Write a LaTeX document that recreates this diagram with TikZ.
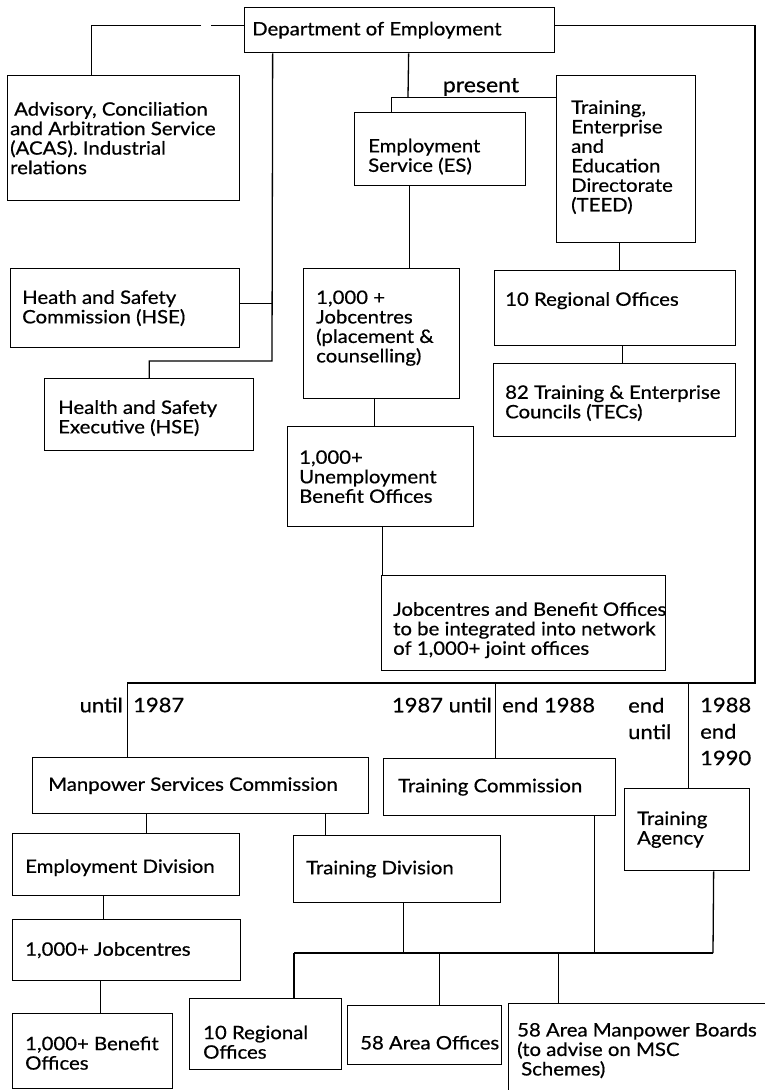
\documentclass[tikz,border=0pt]{standalone}
\usepackage{fontspec}
\setmainfont{Lato}[FakeStretch=1.1,FakeBold=0.6]
\begin{document}
\begin{tikzpicture}[x=1pt,y=-1pt,
  bx/.style={draw, line width=1.3pt, inner sep=0pt, anchor=north west},
  tx/.style={inner sep=0pt, align=left, anchor=west, font=\fontsize{18.5}{19.5}\selectfont},
  lb/.style={inner sep=0pt, font=\fontsize{20}{26.5}\selectfont},
  ln/.style={line width=1.3pt}]
\fill[white] (0,0) rectangle (764,1090);
\useasboundingbox (0,0) rectangle (764,1090);
% boxes
\node[bx, minimum width=310pt, minimum height=45pt] (dept) at (244,7) {};
\node[bx, minimum width=232pt, minimum height=125pt] (acas) at (7,75) {};
\node[bx, minimum width=171pt, minimum height=73pt] (es) at (354,112) {};
\node[bx, minimum width=139pt, minimum height=167pt] (teed) at (556,75) {};
\node[bx, minimum width=229pt, minimum height=79pt] (hsc) at (10,268) {};
\node[bx, minimum width=209pt, minimum height=72pt] (hse) at (44,378) {};
\node[bx, minimum width=156pt, minimum height=130pt] (jc) at (303,268) {};
\node[bx, minimum width=241pt, minimum height=75pt] (ro) at (494,270) {};
\node[bx, minimum width=242pt, minimum height=73pt] (tec) at (493,363) {};
\node[bx, minimum width=186pt, minimum height=100pt] (ub) at (287,426) {};
\node[bx, minimum width=284pt, minimum height=95pt] (joint) at (381,575) {};
\node[bx, minimum width=336pt, minimum height=56pt] (msc) at (32,757) {};
\node[bx, minimum width=232pt, minimum height=57pt] (tc) at (383,758) {};
\node[bx, minimum width=125pt, minimum height=82pt] (ta) at (624,788) {};
\node[bx, minimum width=227pt, minimum height=62pt] (ed) at (12,833) {};
\node[bx, minimum width=207pt, minimum height=67pt] (td) at (293,835) {};
\node[bx, minimum width=228pt, minimum height=61pt] (jc2) at (12,919) {};
\node[bx, minimum width=160pt, minimum height=75pt] (bo) at (12,1013) {};
\node[bx, minimum width=152pt, minimum height=71pt] (ro2) at (189,998) {};
\node[bx, minimum width=154pt, minimum height=59pt] (ao) at (347,1005) {};
\node[bx, minimum width=280pt, minimum height=120pt] (amb) at (508,1003) {};
% texts
\node[tx] (dept-t) at ([xshift=8pt]dept.west) {Department of Employment};
\node[tx] (acas-t) at ([xshift=3pt]acas.west) {\hspace*{4pt}Advisory, Conciliation\\and Arbitration Service\\(ACAS). Industrial\\relations};
\node[tx] (es-t) at ([xshift=14pt,yshift=-7.5pt]es.west) {Employment\\Service (ES)};
\node[tx] (teed-t) at ([xshift=15pt,yshift=2pt]teed.west) {Training,\\Enterprise\\and\\Education\\Directorate\\(TEED)};
\node[tx] (hsc-t) at ([xshift=12pt]hsc.west) {Heath and Safety\\Commission (HSE)};
\node[tx] (hse-t) at ([xshift=14pt,yshift=-3.5pt]hse.west) {Health and Safety\\Executive (HSE)};
\node[tx] (jc-t) at ([xshift=13pt,yshift=5.5pt]jc.west) {1,000 +\\Jobcentres\\(placement \&\\counselling)};
\node[tx] (ro-t) at ([xshift=11pt,yshift=7.5pt]ro.west) {10 Regional Offices};
\node[tx] (tec-t) at ([xshift=12pt,yshift=-3pt]tec.west) {82 Training \& Enterprise\\Councils (TECs)};
\node[tx] (ub-t) at ([xshift=12pt]ub.west) {1,000+\\Unemployment\\Benefit Offices};
\node[tx] (joint-t) at ([xshift=12pt,yshift=-7pt]joint.west) {Jobcentres and Benefit Offices\\to be integrated into network\\of 1,000+ joint offices};
\node[tx] (msc-t) at ([xshift=16pt]msc.west) {Manpower Services Commission};
\node[tx] (tc-t) at ([xshift=15pt]tc.west) {Training Commission};
\node[tx] (ta-t) at ([xshift=13pt]ta.west) {Training\\Agency};
\node[tx] (ed-t) at ([xshift=13pt,yshift=-3pt]ed.west) {Employment Division};
\node[tx] (td-t) at ([xshift=13pt]td.west) {Training Division};
\node[tx] (jc2-t) at ([xshift=13pt]jc2.west) {1,000+ Jobcentres};
\node[tx] (bo-t) at ([xshift=13pt,yshift=-2pt]bo.west) {1,000+ Benefit\\Offices};
\node[tx] (ro2-t) at ([xshift=14pt,yshift=-8pt]ro2.west) {10 Regional\\Offices};
\node[tx] (ao-t) at ([xshift=13pt,yshift=-7.5pt]ao.west) {58 Area Offices};
\node[tx, anchor=west] (amb-t) at ([xshift=9pt,yshift=-47.5pt]amb.north west) {58 Area Manpower Boards\\(to advise on MSC\\\hspace*{4pt}Schemes)};
% labels
\node[lb, font=\fontsize{21}{26.5}\selectfont] (l-present) at (481,87) {present};
\node[lb, anchor=east] (l-until) at (123,705) {until};
\node[lb, anchor=west] (l-1987) at (133,705) {1987};
\node[lb, anchor=east] (l-1987u) at (492,705) {1987 until};
\node[lb, anchor=west] (l-end88) at (502,705) {end 1988};
\node[lb, anchor=west, align=left] (l-endu) at (628,718.5) {end\\until};
\node[lb, anchor=west, align=left] (l-8890) at (700,731.5) {1988\\end\\1990};
% connectors
\draw[ln] ([yshift=4.5pt]dept.west) -- ([yshift=4.5pt,xshift=-33pt]dept.west);
\draw[ln] ([yshift=4.5pt,xshift=-43pt]dept.west) -| ([xshift=-32pt]acas.north);
\coordinate (rc) at (755,683);
\draw[ln] ([yshift=4.5pt]dept.east) -| (rc) -| ([xshift=-73pt]msc.north);
\draw[ln] ([xshift=-4pt]tc.north) -- ([xshift=-4pt]tc.north |- rc);
\draw[ln] ([xshift=1.5pt]ta.north) -- ([xshift=1.5pt]ta.north |- rc);
\coordinate (hk) at (272,361);
\draw[ln] ([xshift=-127pt]dept.south) -- (hk) -| (hse.north);
\draw[ln] ([yshift=4.5pt]hsc.east) -- ([yshift=4.5pt]hsc.east -| hk);
\coordinate (pj) at (408,97);
\draw[ln] ([xshift=9pt]dept.south) -- (pj);
\draw[ln] ([yshift=61.5pt]teed.west) -| ([xshift=-48.5pt]es.north);
\draw[ln] ([xshift=-30.5pt]es.south) -- ([xshift=-30.5pt]es.south |- jc.north);
\draw[ln] ([xshift=-7pt]jc.south) -- ([xshift=-7pt]jc.south |- ub.north);
\draw[ln] ([xshift=2pt]ub.south) -- ([xshift=2pt]ub.south |- joint.north);
\draw[ln] ([xshift=-6.5pt]teed.south) -- ([xshift=-6.5pt]teed.south |- ro.north);
\draw[ln] ([xshift=7.5pt]ro.south) -- ([xshift=7.5pt]ro.south |- tec.north);
\draw[ln] ([xshift=-54pt]msc.south) -- ([xshift=-54pt]msc.south |- ed.north);
\draw[ln] ([xshift=125pt]msc.south) -- ([xshift=125pt]msc.south |- td.north);
\draw[ln] ([xshift=-22.5pt]ed.south) -- ([xshift=-22.5pt]ed.south |- jc2.north);
\draw[ln] ([xshift=-26pt]jc2.south) -- ([xshift=-26pt]jc2.south |- bo.north);
\coordinate (busL) at (294,953);
\coordinate (busR) at (713,953);
\draw[ln] (busL) -- (busR);
\draw[ln] ([xshift=6.5pt]td.south) -- ([xshift=6.5pt]td.south |- busL);
\draw[ln] ([xshift=95pt]tc.south) -- ([xshift=95pt]tc.south |- busL);
\draw[ln] ([xshift=26.5pt]ta.south) -- (busR);
\draw[ln] (busL) -- (busL |- ro2.north);
\draw[ln] ([xshift=15pt]ao.north) -- ([xshift=15pt]ao.north |- busL);
\draw[ln] ([xshift=-90pt]amb.north) -- ([xshift=-90pt]amb.north |- busL);
\end{tikzpicture}
\end{document}
